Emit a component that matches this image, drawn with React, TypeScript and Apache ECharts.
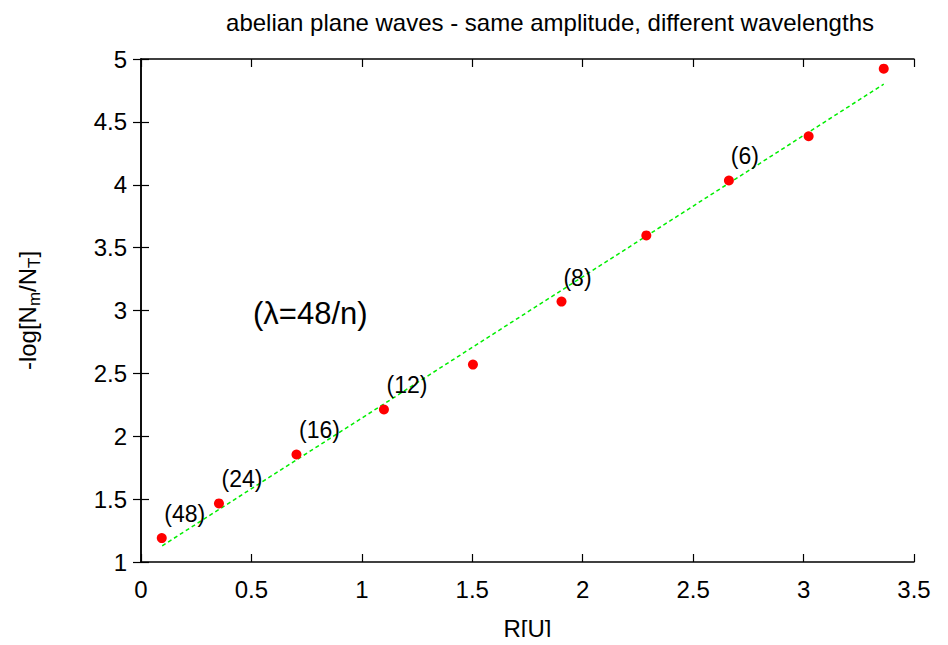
import React, { useEffect, useRef } from "react";
import * as echarts from "echarts";

// Measured points: R[U] vs -log(N_m/N_T)
const rValues = [0.094, 0.353, 0.704, 1.1, 1.503, 1.904, 2.288, 2.662, 3.023, 3.363];
const logValues = [1.19, 1.466, 1.855, 2.213, 2.57, 3.071, 3.597, 4.034, 4.386, 4.923];
// Wavelength annotations next to selected points
const pointLabels = ["(48)", "(24)", "(16)", "(12)", "", "(8)", "", "(6)", "", ""];

// Linear fit y = slope * x + intercept, drawn between these x values
const fitSlope = 1.1237;
const fitIntercept = 1.021;
const fitRange = [0.096, 3.363];

const xTicks = [0, 0.5, 1, 1.5, 2, 2.5, 3, 3.5];
const yTicks = [1, 1.5, 2, 2.5, 3, 3.5, 4, 4.5, 5];

const FONT = "Liberation Sans, Arial, Helvetica, sans-serif";

export default function App() {
  const ref = useRef<HTMLDivElement>(null);

  useEffect(() => {
    if (!ref.current) return;
    const chart = echarts.init(ref.current, null, { renderer: "svg" });

    const scatterData = rValues.map((x, i) => ({
      value: [x, logValues[i]],
      label: {
        show: pointLabels[i] !== "",
        formatter: pointLabels[i],
        offset: i === 5 || i === 7 ? [16, -24] : [23, -24],
      },
    }));

    const fitData = fitRange.map((x) => [x, fitSlope * x + fitIntercept]);

    const axisLine = { show: true, lineStyle: { color: "#000", width: 1.5 } };
    const tickStyle = { show: true, inside: true, length: 8, lineStyle: { color: "#000", width: 1.2 } };

    chart.setOption({
      animation: false,
      textStyle: { fontFamily: FONT },
      title: {
        text: "abelian plane waves - same amplitude, different wavelengths",
        left: 545,
        top: 5,
        textAlign: "center",
        textStyle: { fontFamily: FONT, fontSize: 24, fontWeight: "normal", color: "#000" },
      },
      grid: { left: 141, right: 34, top: 59, bottom: 79 },
      xAxis: [
        {
          type: "value",
          min: 0,
          max: 3.5,
          interval: 0.5,
          name: "R[U]",
          nameLocation: "middle",
          nameGap: 54,
          nameTextStyle: { fontFamily: FONT, fontSize: 24, color: "#000" },
          axisLine,
          axisTick: tickStyle,
          splitLine: { show: false },
          axisLabel: {
            fontFamily: FONT,
            fontSize: 24,
            color: "#000",
            margin: 15,
            formatter: (v: number) => (xTicks.includes(v) ? String(v) : ""),
          },
        },
        {
          type: "value",
          position: "top",
          min: 0,
          max: 3.5,
          interval: 0.5,
          axisLine,
          axisTick: tickStyle,
          splitLine: { show: false },
          axisLabel: { show: false },
        },
      ],
      yAxis: [
        {
          type: "value",
          min: 1,
          max: 5,
          interval: 0.5,
          name: "-log[N{sub|m}/N{sub|T}]",
          nameLocation: "middle",
          nameRotate: 90,
          nameGap: 114,
          nameTextStyle: {
            fontFamily: FONT,
            fontSize: 24,
            color: "#000",
            lineHeight: 32,
            verticalAlign: "middle",
            rich: {
              sub: { fontFamily: FONT, fontSize: 17, color: "#000", verticalAlign: "bottom", lineHeight: 32 },
            },
          },
          axisLine,
          axisTick: tickStyle,
          splitLine: { show: false },
          axisLabel: {
            fontFamily: FONT,
            fontSize: 24,
            color: "#000",
            margin: 14,
            formatter: (v: number) => (yTicks.includes(v) ? String(v) : ""),
          },
        },
        {
          type: "value",
          position: "right",
          min: 1,
          max: 5,
          interval: 0.5,
          axisLine,
          axisTick: tickStyle,
          splitLine: { show: false },
          axisLabel: { show: false },
        },
      ],
      series: [
        {
          type: "line",
          data: fitData,
          symbol: "none",
          silent: true,
          lineStyle: { color: "#00ee00", width: 1.5, type: [4, 3] },
          z: 2,
        },
        {
          type: "scatter",
          data: scatterData,
          symbol: "circle",
          symbolSize: 10,
          itemStyle: { color: "#ff0000", opacity: 1 },
          label: {
            position: "inside",
            fontFamily: FONT,
            fontSize: 23,
            color: "#000",
          },
          z: 3,
        },
      ],
      graphic: [
        {
          type: "text",
          left: 253,
          top: 298,
          style: { text: "(λ=48/n)", font: `31px ${FONT}`, fill: "#000" },
        },
      ],
    });

    return () => chart.dispose();
  }, []);

  return <div ref={ref} style={{ width: 948, height: 645, margin: -8 }} />;
}
